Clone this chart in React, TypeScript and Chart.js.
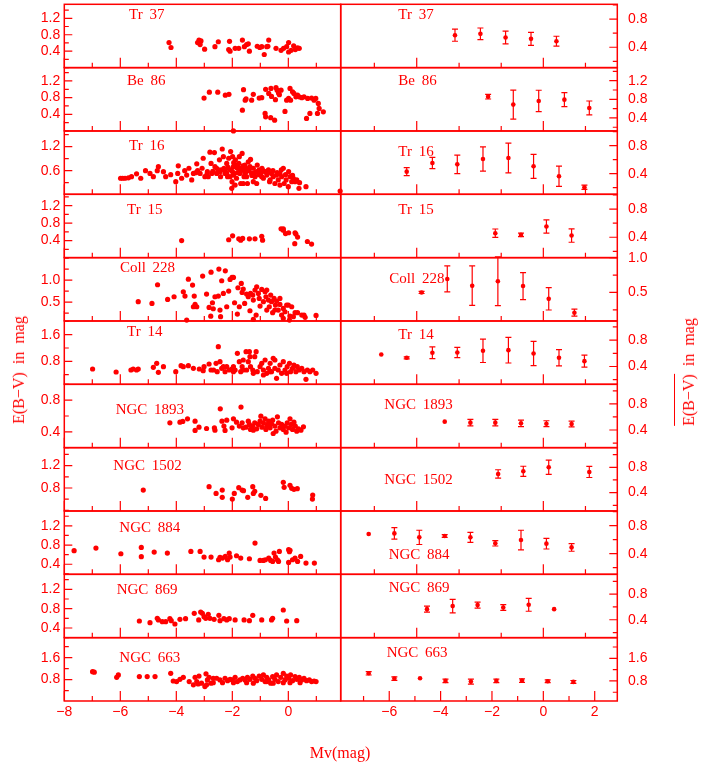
import React, { useEffect, useRef } from "react";
import { Chart, registerables } from "chart.js";
Chart.register(...registerables);

type Pt = [number, number];
type Bin = [number, number, number];

// ---------------- cluster names ----------------
const CLUSTERS = ["Tr 37", "Be 86", "Tr 16", "Tr 15", "Coll 228", "Tr 14", "NGC 1893", "NGC 1502", "NGC 884", "NGC 869", "NGC 663"];

// ---------------- individual stars: [Mv, E(B-V)] ----------------
const TR37_STARS: Pt[] = [[-4.26,0.61],[-4.19,0.49],[-3.24,0.61],[-3.19,0.67],[-3.15,0.56],[-3.12,0.65],[-2.99,0.45],[-2.62,0.51],[-2.50,0.63],[-2.10,0.64],[-2.13,0.44],[-2.08,0.40],[-1.90,0.47],[-1.77,0.47],[-1.64,0.67],[-1.57,0.51],[-1.49,0.56],[-1.43,0.58],[-1.39,0.40],[-1.11,0.52],[-1.02,0.49],[-0.95,0.51],[-0.86,0.32],[-0.77,0.51],[-0.70,0.67],[-0.73,0.52],[-0.44,0.47],[-0.26,0.42],[-0.17,0.47],[-0.06,0.51],[0.01,0.61],[0.01,0.38],[0.10,0.42],[0.19,0.53],[0.25,0.44],[0.33,0.48],[0.39,0.47]];
const BE86_STARS: Pt[] = [[-3.01,0.79],[-2.82,0.93],[-2.52,0.93],[-2.25,0.86],[-2.12,0.88],[-1.96,0.0],[-1.64,0.50],[-1.60,0.99],[-1.54,0.74],[-1.51,0.77],[-1.31,0.74],[-1.25,0.88],[-1.04,0.79],[-0.95,0.80],[-0.83,0.42],[-0.81,0.34],[-0.81,1.00],[-0.70,0.90],[-0.63,0.32],[-0.62,1.02],[-0.60,0.83],[-0.49,0.26],[-0.46,0.75],[-0.44,1.04],[-0.40,0.98],[-0.35,0.91],[-0.32,0.87],[-0.26,0.98],[-0.12,0.47],[-0.06,0.74],[0.01,0.78],[0.06,1.02],[0.08,0.74],[0.15,0.94],[0.20,0.90],[0.27,0.82],[0.33,0.86],[0.39,0.82],[0.48,0.80],[0.56,0.82],[0.65,0.30],[0.69,0.78],[0.77,0.42],[0.83,0.79],[0.92,0.74],[0.98,0.78],[1.04,0.42],[1.07,0.66],[1.10,0.54],[1.25,0.46]];
const TR16_STARS: Pt[] = [[-5.99,0.41],[-5.92,0.41],[-5.83,0.41],[-5.71,0.42],[-5.60,0.45],[-5.42,0.52],[-5.27,0.41],[-5.10,0.60],[-4.94,0.53],[-4.82,0.45],[-4.68,0.60],[-4.64,0.70],[-4.46,0.575],[-4.38,0.45],[-4.20,0.50],[-4.02,0.325],[-3.93,0.72],[-3.95,0.53],[-3.81,0.41],[-3.70,0.60],[-3.63,0.49],[-3.55,0.66],[-3.45,0.37],[-3.39,0.53],[-3.30,0.55],[-3.27,0.77],[-3.24,0.60],[-3.15,0.53],[-3.08,0.66],[-3.04,0.91],[-2.98,0.45],[-2.90,0.52],[-2.89,0.575],[-2.86,0.45],[-2.80,1.06],[-2.76,0.78],[-2.73,0.53],[-2.70,0.58],[-2.64,1.05],[-2.62,0.70],[-2.56,0.53],[-2.56,0.66],[-2.50,0.62],[-2.46,0.87],[-2.44,0.575],[-2.42,0.45],[-2.40,0.62],[-2.36,1.14],[-2.32,0.95],[-2.30,0.66],[-2.26,0.53],[-2.25,0.60],[-2.20,0.78],[-2.20,0.53],[-2.17,0.45],[-2.15,0.68],[-2.13,0.91],[-2.08,0.62],[-2.08,0.45],[-2.06,1.075],[-2.02,0.16],[-2.01,0.325],[-2.00,0.58],[-1.99,0.95],[-1.96,0.70],[-1.96,0.49],[-1.95,0.80],[-1.93,0.53],[-1.90,0.24],[-1.89,0.87],[-1.85,0.41],[-1.85,0.74],[-1.82,0.66],[-1.80,0.55],[-1.77,0.78],[-1.75,0.95],[-1.73,0.53],[-1.73,0.66],[-1.70,0.28],[-1.70,0.60],[-1.65,1.03],[-1.63,0.62],[-1.62,0.72],[-1.61,0.28],[-1.58,0.45],[-1.55,0.74],[-1.55,0.52],[-1.51,0.575],[-1.50,0.66],[-1.49,0.45],[-1.46,0.28],[-1.43,0.82],[-1.40,0.60],[-1.37,0.70],[-1.35,0.88],[-1.31,0.53],[-1.30,0.48],[-1.25,0.66],[-1.25,0.325],[-1.20,0.55],[-1.19,0.45],[-1.13,0.28],[-1.13,0.575],[-1.11,0.74],[-1.05,0.50],[-1.04,0.62],[-0.99,0.53],[-0.95,0.45],[-0.94,0.66],[-0.90,0.60],[-0.89,0.41],[-0.83,0.575],[-0.77,0.49],[-0.75,0.55],[-0.71,0.62],[-0.67,0.325],[-0.65,0.37],[-0.60,0.53],[-0.55,0.60],[-0.54,0.45],[-0.48,0.28],[-0.42,0.49],[-0.40,0.55],[-0.36,0.37],[-0.30,0.53],[-0.30,0.24],[-0.25,0.62],[-0.24,0.45],[-0.18,0.66],[-0.15,0.28],[-0.10,0.50],[-0.08,0.37],[0.00,0.20],[0.01,0.575],[0.06,0.45],[0.12,0.325],[0.15,0.48],[0.18,0.41],[0.24,0.325],[0.30,0.37],[0.38,0.16],[0.40,0.30],[0.63,0.20],[1.85,0.09]];
const TR15_STARS: Pt[] = [[-3.81,0.40],[-2.13,0.42],[-1.99,0.51],[-1.77,0.44],[-1.70,0.41],[-1.63,0.45],[-1.39,0.44],[-1.19,0.44],[-0.95,0.50],[-0.92,0.41],[-0.26,0.67],[-0.18,0.64],[-0.18,0.67],[-0.10,0.56],[0.01,0.58],[0.23,0.33],[0.24,0.58],[0.27,0.55],[0.33,0.48],[0.68,0.38],[0.83,0.32]];
const COLL228_STARS: Pt[] = [[-5.36,0.508],[-4.87,0.47],[-4.67,0.894],[-4.31,0.561],[-4.08,0.621],[-3.75,0.735],[-3.69,0.636],[-3.63,0.09],[-3.57,1.02],[-3.42,0.886],[-3.36,0.636],[-3.39,0.394],[-3.33,0.447],[-3.27,0.394],[-3.06,1.09],[-2.92,0.682],[-2.83,0.379],[-2.77,0.18],[-2.76,1.18],[-2.71,0.485],[-2.68,0.348],[-2.62,0.621],[-2.50,0.636],[-2.48,1.25],[-2.44,0.318],[-2.42,0.167],[-2.38,0.985],[-2.32,0.697],[-2.25,1.21],[-2.20,0.394],[-2.13,0.75],[-2.08,1.015],[-2.01,1.06],[-1.96,1.06],[-1.92,0.485],[-1.82,0.227],[-1.80,0.826],[-1.75,0.394],[-1.68,0.924],[-1.65,0.72],[-1.61,0.795],[-1.56,0.47],[-1.49,0.682],[-1.43,0.621],[-1.37,0.303],[-1.35,0.697],[-1.27,0.659],[-1.25,0.106],[-1.25,0.545],[-1.19,0.773],[-1.15,0.205],[-1.13,0.848],[-1.07,0.697],[-1.04,0.583],[-1.01,0.409],[-0.95,0.788],[-0.89,0.508],[-0.83,0.735],[-0.80,0.621],[-0.77,0.318],[-0.77,0.773],[-0.71,0.545],[-0.68,0.394],[-0.63,0.659],[-0.60,0.508],[-0.56,0.258],[-0.51,0.583],[-0.48,0.32],[-0.46,0.432],[-0.42,0.523],[-0.36,0.318],[-0.30,0.447],[-0.30,0.583],[-0.24,0.205],[-0.18,0.356],[-0.18,0.129],[-0.12,0.28],[-0.06,0.432],[0.00,0.432],[0.04,0.09],[0.06,0.182],[0.12,0.394],[0.18,0.167],[0.24,0.258],[0.33,0.258],[0.48,0.205],[0.56,0.205],[0.60,0.152],[0.99,0.197]];
const TR14_STARS: Pt[] = [[-6.99,0.57],[-6.15,0.48],[-5.62,0.54],[-5.54,0.57],[-5.42,0.54],[-5.36,0.57],[-4.82,0.62],[-4.70,0.74],[-4.64,0.47],[-4.46,0.64],[-4.02,0.49],[-3.83,0.67],[-3.75,0.64],[-3.57,0.67],[-3.39,0.59],[-3.18,0.57],[-3.04,0.52],[-3.01,0.64],[-2.83,0.72],[-2.76,0.54],[-2.67,0.54],[-2.58,0.74],[-2.54,0.49],[-2.50,1.24],[-2.44,0.79],[-2.38,0.59],[-2.32,0.64],[-2.26,0.49],[-2.20,0.64],[-2.11,0.54],[-2.02,0.57],[-1.96,0.49],[-1.96,0.64],[-1.90,0.54],[-1.82,1.04],[-1.75,0.79],[-1.70,0.49],[-1.65,0.64],[-1.61,0.84],[-1.61,0.54],[-1.51,1.09],[-1.49,0.54],[-1.43,0.79],[-1.39,1.09],[-1.37,0.94],[-1.35,0.64],[-1.27,0.54],[-1.25,0.44],[-1.20,0.94],[-1.15,1.09],[-1.11,0.49],[-1.01,0.64],[-0.95,0.74],[-0.89,0.54],[-0.89,0.39],[-0.83,0.84],[-0.77,0.44],[-0.71,0.59],[-0.65,0.74],[-0.65,0.49],[-0.60,0.49],[-0.54,0.89],[-0.48,0.59],[-0.48,0.84],[-0.42,0.29],[-0.36,0.54],[-0.30,0.69],[-0.24,0.44],[-0.18,0.79],[-0.12,0.54],[-0.06,0.44],[-0.04,0.64],[0.04,0.74],[0.08,0.49],[0.15,0.59],[0.20,0.69],[0.27,0.49],[0.32,0.64],[0.39,0.54],[0.48,0.59],[0.56,0.49],[0.63,0.26],[0.68,0.54],[0.77,0.49],[0.87,0.54],[0.99,0.44]];
const NGC1893_STARS: Pt[] = [[-4.23,0.514],[-3.87,0.522],[-3.77,0.531],[-3.60,0.564],[-3.33,0.535],[-3.33,0.417],[-3.19,0.459],[-2.92,0.442],[-2.64,0.451],[-2.62,0.421],[-2.43,0.690],[-2.37,0.535],[-2.30,0.472],[-2.26,0.417],[-2.20,0.547],[-2.01,0.451],[-1.96,0.564],[-1.85,0.522],[-1.75,0.472],[-1.69,0.712],[-1.65,0.514],[-1.61,0.451],[-1.51,0.459],[-1.43,0.535],[-1.39,0.493],[-1.35,0.430],[-1.27,0.472],[-1.25,0.42],[-1.20,0.514],[-1.13,0.438],[-1.07,0.493],[-1.01,0.535],[-0.98,0.598],[-0.94,0.459],[-0.89,0.514],[-0.83,0.564],[-0.80,0.430],[-0.77,0.47],[-0.74,0.493],[-0.70,0.535],[-0.65,0.451],[-0.60,0.501],[-0.56,0.547],[-0.54,0.379],[-0.48,0.472],[-0.44,0.408],[-0.39,0.589],[-0.35,0.514],[-0.30,0.451],[-0.24,0.493],[-0.18,0.430],[-0.12,0.472],[-0.08,0.396],[-0.04,0.514],[0.01,0.451],[0.06,0.564],[0.11,0.493],[0.15,0.430],[0.20,0.522],[0.25,0.472],[0.30,0.408],[0.36,0.438],[0.45,0.421],[0.54,0.463]];
const NGC1502_STARS: Pt[] = [[-5.18,0.764],[-2.83,0.824],[-2.58,0.704],[-2.36,0.764],[-2.36,0.633],[-2.00,0.603],[-1.93,0.704],[-1.77,0.806],[-1.65,0.764],[-1.60,0.752],[-1.45,0.633],[-1.27,0.824],[-1.25,0.704],[-1.20,0.740],[-0.98,0.669],[-0.81,0.615],[-0.18,0.901],[-0.15,0.812],[0.06,0.848],[0.12,0.794],[0.20,0.776],[0.32,0.788],[0.87,0.675],[0.86,0.603]];
const NGC884_STARS: Pt[] = [[-7.65,0.682],[-6.87,0.737],[-5.98,0.619],[-5.25,0.751],[-5.25,0.557],[-4.79,0.654],[-4.32,0.633],[-3.48,0.668],[-3.15,0.668],[-3.01,0.550],[-2.76,0.550],[-2.49,0.494],[-2.44,0.543],[-2.35,0.529],[-2.25,0.563],[-2.17,0.494],[-2.11,0.633],[-2.08,0.550],[-1.85,0.577],[-1.70,0.529],[-1.39,0.515],[-1.19,0.842],[-1.01,0.480],[-0.89,0.480],[-0.82,0.494],[-0.70,0.529],[-0.63,0.480],[-0.56,0.459],[-0.51,0.633],[-0.46,0.550],[-0.39,0.494],[-0.35,0.459],[-0.32,0.668],[0.01,0.703],[0.04,0.661],[0.06,0.69],[0.01,0.438],[0.15,0.494],[0.24,0.529],[0.33,0.459],[0.44,0.563],[0.63,0.424],[0.93,0.424]];
const NGC869_STARS: Pt[] = [[-5.32,0.545],[-4.94,0.510],[-4.68,0.600],[-4.64,0.566],[-4.50,0.531],[-4.38,0.531],[-4.23,0.593],[-4.18,0.552],[-4.05,0.483],[-3.87,0.579],[-3.67,0.593],[-3.36,0.703],[-3.20,0.566],[-3.13,0.731],[-3.07,0.703],[-3.01,0.635],[-2.95,0.600],[-2.86,0.683],[-2.80,0.600],[-2.65,0.579],[-2.48,0.662],[-2.44,0.552],[-2.30,0.593],[-2.20,0.566],[-2.11,0.593],[-1.90,0.566],[-1.58,0.566],[-1.39,0.552],[-1.27,0.662],[-0.95,0.566],[-0.60,0.566],[-0.56,0.600],[-0.18,0.772],[-0.06,0.545],[0.30,0.552]];
const NGC663_STARS: Pt[] = [[-6.99,1.09],[-6.93,1.07],[-6.13,0.885],[-6.07,0.97],[-5.32,0.91],[-5.04,0.91],[-4.76,0.91],[-4.20,1.03],[-4.11,0.75],[-3.99,0.73],[-3.87,0.81],[-3.75,0.885],[-3.54,0.73],[-3.39,0.61],[-3.33,0.885],[-3.27,0.73],[-3.22,0.64],[-3.19,0.93],[-3.10,0.67],[-2.98,0.545],[-2.94,1.01],[-2.92,0.61],[-2.89,0.79],[-2.83,0.885],[-2.76,0.67],[-2.68,0.69],[-2.68,0.85],[-2.56,0.85],[-2.44,0.79],[-2.35,0.69],[-2.26,0.85],[-2.17,0.76],[-2.08,0.81],[-2.00,0.79],[-1.96,0.69],[-1.90,0.885],[-1.82,0.73],[-1.73,0.79],[-1.63,0.85],[-1.55,0.79],[-1.49,0.69],[-1.46,0.885],[-1.37,0.81],[-1.27,0.93],[-1.25,0.67],[-1.19,0.85],[-1.13,0.76],[-1.04,0.93],[-0.95,0.81],[-0.89,0.97],[-0.83,0.73],[-0.77,0.885],[-0.77,0.73],[-0.70,0.79],[-0.63,0.67],[-0.56,0.91],[-0.54,0.67],[-0.48,0.81],[-0.42,0.97],[-0.36,0.73],[-0.27,0.885],[-0.18,1.03],[-0.18,0.69],[-0.12,0.79],[-0.06,0.93],[0.01,0.85],[0.06,0.69],[0.08,0.97],[0.15,0.76],[0.24,0.91],[0.30,0.81],[0.39,0.885],[0.42,0.69],[0.48,0.79],[0.56,0.85],[0.65,0.76],[0.75,0.79],[0.83,0.73],[0.92,0.75],[0.99,0.73]];

// ---------------- binned means: [Mv, mean E(B-V), error] ----------------
const TR37_BINS: Bin[] = [[-3.44,0.571,0.086],[-2.45,0.590,0.083],[-1.47,0.538,0.09],[-0.48,0.519,0.093],[0.51,0.486,0.07]];
const BE86_BINS: Bin[] = [[-2.15,0.857,0.05],[-1.17,0.686,0.31],[-0.18,0.764,0.23],[0.82,0.793,0.15],[1.79,0.614,0.15]];
const TR16_BINS: Bin[] = [[-5.32,0.429,0.057],[-4.32,0.552,0.081],[-3.35,0.533,0.133],[-2.35,0.610,0.174],[-1.36,0.624,0.212],[-0.38,0.505,0.171],[0.61,0.362,0.145],[1.60,0.205,0.03]];
const TR15_BINS: Bin[] = [[-1.87,0.457,0.06],[-0.87,0.433,0.024],[0.12,0.552,0.095],[1.10,0.424,0.095]];
const COLL228_BINS: Bin[] = [[-4.74,0.5,0.015],[-3.74,0.694,0.187],[-2.77,0.597,0.284],[-1.77,0.660,0.35],[-0.79,0.592,0.194],[0.21,0.408,0.16],[1.21,0.209,0.05]];
const TR14_BINS: Bin[] = [[-6.31,0.582,0],[-5.32,0.532,0.015],[-4.32,0.608,0.089],[-3.35,0.613,0.078],[-2.35,0.638,0.177],[-1.36,0.648,0.195],[-0.38,0.597,0.185],[0.61,0.532,0.124],[1.60,0.481,0.091]];
const NGC1893_BINS: Bin[] = [[-3.84,0.528,0],[-2.84,0.513,0.05],[-1.87,0.513,0.05],[-0.87,0.503,0.05],[0.12,0.497,0.045],[1.10,0.492,0.045]];
const NGC1502_BINS: Bin[] = [[-1.76,0.695,0.066],[-0.78,0.737,0.079],[0.21,0.80,0.113],[1.79,0.726,0.087]];
const NGC884_BINS: Bin[] = [[-6.80,0.681,0],[-5.80,0.690,0.081],[-4.83,0.633,0.102],[-3.84,0.652,0.02],[-2.84,0.633,0.071],[-1.87,0.548,0.038],[-0.87,0.595,0.14],[0.12,0.543,0.076],[1.10,0.490,0.055]];
const NGC869_BINS: Bin[] = [[-4.53,0.566,0.047],[-3.53,0.613,0.106],[-2.56,0.629,0.047],[-1.56,0.592,0.044],[-0.57,0.634,0.101],[0.42,0.566,0]];
const NGC663_BINS: Bin[] = [[-6.80,1.07,0.06],[-5.80,0.882,0.06],[-4.80,0.894,0],[-3.81,0.80,0.06],[-2.82,0.776,0.09],[-1.83,0.80,0.06],[-0.83,0.812,0.06],[0.17,0.788,0.05],[1.17,0.765,0.05]];

const STARS = [TR37_STARS, BE86_STARS, TR16_STARS, TR15_STARS, COLL228_STARS, TR14_STARS, NGC1893_STARS, NGC1502_STARS, NGC884_STARS, NGC869_STARS, NGC663_STARS];
const BINS = [TR37_BINS, BE86_BINS, TR16_BINS, TR15_BINS, COLL228_BINS, TR14_BINS, NGC1893_BINS, NGC1502_BINS, NGC884_BINS, NGC869_BINS, NGC663_BINS];

// ---------------- axes ----------------
const LEFT_X_RANGE: [number, number] = [-8, 1.87];
const RIGHT_X_RANGE: [number, number] = [-7.89, 2.88];
const LEFT_X_LABELS = [-8, -6, -4, -2, 0];
const RIGHT_X_LABELS = [-6, -4, -2, 0, 2];
const LEFT_X_MARKS = [-8, -7, -6, -5, -4, -3, -2, -1, 0, 1];
const RIGHT_X_MARKS_BOTTOM = [-7, -6, -5, -4, -3, -2, -1, 0, 1, 2];
const RIGHT_X_MARKS_UPPER = [-6.58, -4.93, -3.28, -1.64, 0, 1.64];
const RIGHT_X_MAJOR_UPPER = [-4.93, 0];

const LEFT_Y_RANGE: [number, number][] = [[0, 1.54], [0, 1.52], [0.01, 1.59], [0.01, 1.46], [0.07, 1.51], [0.11, 2.01], [0.2, 1.0], [0.39, 1.52], [0.19, 1.51], [0.2, 1.51], [0.02, 2.33]];
const LEFT_Y_LABELS = [[0.4, 0.8, 1.2], [0.4, 0.8, 1.2], [0.6, 1.2], [0.4, 0.8, 1.2], [0.5, 1.0], [0.8, 1.6], [0.4, 0.8], [0.8, 1.2], [0.4, 0.8, 1.2], [0.4, 0.8, 1.2], [0.8, 1.6]];
const LEFT_Y_MINOR = [0.2, 0.2, 0.3, 0.2, 0.25, 0.4, 0.2, 0.2, 0.2, 0.2, 0.4];
const RIGHT_Y_RANGE: [number, number][] = [[0.11, 1.01], [0.12, 1.48], [0.105, 1.01], [0.11, 1.01], [0.09, 1.0], [0.13, 1.09], [0.13, 1.10], [0.11, 1.11], [0.105, 1.01], [0.12, 1.11], [0.09, 2.33]];
const RIGHT_Y_LABELS = [[0.4, 0.8], [0.4, 0.8, 1.2], [0.4, 0.8], [0.4, 0.8], [0.5, 1.0], [0.4, 0.8], [0.4, 0.8], [0.4, 0.8], [0.4, 0.8], [0.4, 0.8], [0.8, 1.6]];
const RIGHT_Y_MINOR = [0.2, 0.2, 0.2, 0.2, 0.25, 0.2, 0.2, 0.2, 0.2, 0.2, 0.4];

// ---------------- layout (pixels) ----------------
const RED = "#ff0000";
const SANS = "'Liberation Sans', Arial, sans-serif";
const SERIF = "'Liberation Serif', 'Times New Roman', serif";
const GRID_TOP = 4.3;
const ROW_H = 63.336;
const L_EDGE = 64.3;
const MID = 340.7;
const R_EDGE = 617.3;
const MARGIN = 26;
const XAXIS_H = 30;
const LEFT_LABEL_POS: [number, number][] = [[129, 10], [127, 76], [129, 141], [127, 205], [120, 262.7], [127, 326.7], [115.7, 405], [113.3, 460.7], [119.3, 522.3], [116.7, 585], [119.3, 652.7]];
const RIGHT_LABEL_POS: [number, number][] = [[398.3, 10], [398.3, 76], [398.3, 146.7], [398.3, 205], [389.3, 274], [398.3, 330], [384.3, 400], [384.3, 475], [388.7, 550], [388.7, 582.7], [386.7, 647.3]];

const fmtX = (v: number) => (v < 0 ? "\u2212" + Math.abs(v) : String(v));

interface PanelProps {
  side: "L" | "R";
  row: number;
}

function Panel({ side, row }: PanelProps) {
  const ref = useRef<HTMLCanvasElement>(null);
  const isBottom = row === 10;
  const top = GRID_TOP + row * ROW_H;
  const bottom = top + ROW_H;
  const cTop = Math.floor(top) - MARGIN;
  const cBottom = Math.ceil(bottom) + MARGIN + (isBottom ? XAXIS_H : 0);
  const cH = cBottom - cTop;
  const cLeft = side === "L" ? 0 : 330;
  const cW = side === "L" ? 350 : 387;

  useEffect(() => {
    const padTop = top - cTop;
    const padBottom = cBottom - bottom - (isBottom ? XAXIS_H : 0);
    const padLeft = side === "L" ? 0 : MID - cLeft;
    const padRight = side === "L" ? cLeft + cW - MID : 0;
    const yAxisW = side === "L" ? L_EDGE - cLeft : cLeft + cW - R_EDGE;
    const xRange = side === "L" ? LEFT_X_RANGE : RIGHT_X_RANGE;
    const xLabels = side === "L" ? LEFT_X_LABELS : RIGHT_X_LABELS;
    const yRange = side === "L" ? LEFT_Y_RANGE[row] : RIGHT_Y_RANGE[row];
    const yLabels = side === "L" ? LEFT_Y_LABELS[row] : RIGHT_Y_LABELS[row];
    const yMinor = side === "L" ? LEFT_Y_MINOR[row] : RIGHT_Y_MINOR[row];
    const xMarks = side === "L" ? LEFT_X_MARKS : isBottom ? RIGHT_X_MARKS_BOTTOM : RIGHT_X_MARKS_UPPER;
    const isMajorX = (v: number) =>
      side === "L" || isBottom ? Math.abs(v % 2) < 1e-6 : RIGHT_X_MAJOR_UPPER.some((m) => Math.abs(m - v) < 1e-6);
    const bins = side === "R" ? BINS[row] : [];
    const data = side === "L"
      ? STARS[row].map(([x, y]) => ({ x, y }))
      : BINS[row].map(([x, y]) => ({ x, y }));

    const deco = {
      id: "deco" + side + row,
      afterDatasetsDraw(chart: any) {
        const ctx = chart.ctx as CanvasRenderingContext2D;
        const a = chart.chartArea;
        const xs = chart.scales.x;
        const ys = chart.scales.y;
        ctx.save();
        ctx.strokeStyle = RED;
        ctx.lineWidth = 1.2;
        // error bars
        for (const [mv, e, err] of bins) {
          if (err <= 0) continue;
          const px = xs.getPixelForValue(mv);
          const y1 = ys.getPixelForValue(e - err);
          const y2 = ys.getPixelForValue(e + err);
          ctx.beginPath();
          ctx.moveTo(px, y1); ctx.lineTo(px, y2);
          ctx.moveTo(px - 3, y1); ctx.lineTo(px + 3, y1);
          ctx.moveTo(px - 3, y2); ctx.lineTo(px + 3, y2);
          ctx.stroke();
        }
        // inward x tick marks at the bottom
        ctx.beginPath();
        for (const v of xMarks) {
          const px = xs.getPixelForValue(v);
          const len = isMajorX(v) ? 10 : 5;
          ctx.moveTo(px, a.bottom); ctx.lineTo(px, a.bottom - len);
        }
        // inward y tick marks
        const k0 = Math.ceil(yRange[0] / yMinor - 1e-6);
        for (let k = k0; k * yMinor <= yRange[1] + 1e-6; k++) {
          const v = k * yMinor;
          const py = ys.getPixelForValue(v);
          const major = yLabels.some((m) => Math.abs(m - v) < 1e-6);
          const len = major ? 8 : 4.5;
          if (side === "L") { ctx.moveTo(a.left, py); ctx.lineTo(a.left + len, py); }
          else { ctx.moveTo(a.right, py); ctx.lineTo(a.right - len, py); }
        }
        ctx.stroke();
        // frame
        ctx.lineWidth = 1.5;
        ctx.strokeRect(a.left, a.top, a.right - a.left, a.bottom - a.top);
        ctx.restore();
      },
    };

    const chart = new Chart(ref.current as HTMLCanvasElement, {
      type: "scatter",
      data: {
        datasets: [
          {
            data,
            pointRadius: side === "L" ? 2.6 : 2.3,
            pointBackgroundColor: RED,
            pointBorderColor: RED,
            pointBorderWidth: 0,
            showLine: false,
            clip: false as any,
          },
        ],
      },
      options: {
        responsive: false,
        animation: false,
        events: [],
        layout: { autoPadding: false, padding: { top: padTop, bottom: padBottom, left: padLeft, right: padRight } },
        plugins: { legend: { display: false }, tooltip: { enabled: false } },
        scales: {
          x: {
            type: "linear",
            min: xRange[0],
            max: xRange[1],
            display: isBottom,
            grid: { display: false, drawTicks: false },
            border: { display: false },
            ticks: {
              autoSkip: false,
              maxRotation: 0,
              padding: 3,
              color: RED,
              font: { family: SANS, size: 14 },
              callback: (v: any) => fmtX(Number(v)),
            },
            afterBuildTicks: (s: any) => { s.ticks = xLabels.map((v) => ({ value: v })); },
            afterFit: (s: any) => { if (isBottom) s.height = XAXIS_H; },
          },
          y: {
            type: "linear",
            position: side === "L" ? "left" : "right",
            min: yRange[0],
            max: yRange[1],
            grid: { display: false, drawTicks: false },
            border: { display: false },
            ticks: {
              autoSkip: false,
              padding: side === "L" ? 4 : 10.7,
              color: RED,
              font: { family: SANS, size: 14 },
              callback: (v: any) => Number(v).toFixed(1),
            },
            afterBuildTicks: (s: any) => { s.ticks = yLabels.map((v) => ({ value: v })); },
            afterFit: (s: any) => { s.width = yAxisW; },
          },
        },
      } as any,
      plugins: [deco],
    });
    return () => chart.destroy();
  }, []);

  return (
    <canvas
      ref={ref}
      width={cW}
      height={cH}
      style={{ position: "absolute", left: cLeft, top: cTop, width: cW, height: cH }}
    />
  );
}

const labelStyle = (x: number, capTop: number): React.CSSProperties => ({
  position: "absolute",
  left: x,
  top: capTop - 2.7,
  fontFamily: SERIF,
  fontSize: 15,
  lineHeight: "15px",
  color: RED,
  whiteSpace: "pre",
  wordSpacing: 3,
});

export default function App() {
  const rows = CLUSTERS.map((_, i) => i);
  return (
    <div style={{ position: "absolute", left: 0, top: 0, width: 717, height: 766, background: "#fff", overflow: "hidden" }}>
      {rows.map((i) => (
        <Panel key={"L" + i} side="L" row={i} />
      ))}
      {rows.map((i) => (
        <Panel key={"R" + i} side="R" row={i} />
      ))}
      {CLUSTERS.map((name, i) => (
        <div key={"ll" + i} style={labelStyle(LEFT_LABEL_POS[i][0], LEFT_LABEL_POS[i][1])}>{name}</div>
      ))}
      {CLUSTERS.map((name, i) => (
        <div key={"rl" + i} style={labelStyle(RIGHT_LABEL_POS[i][0], RIGHT_LABEL_POS[i][1])}>{name}</div>
      ))}
      <div
        style={{
          position: "absolute", left: 19, top: 370, transform: "translate(-50%, -50%) rotate(-90deg)",
          fontFamily: SERIF, fontSize: 16, color: RED, whiteSpace: "nowrap", wordSpacing: 4,
        }}
      >
        E(B{"\u2212"}V) in mag
      </div>
      <div
        style={{
          position: "absolute", left: 689, top: 372, transform: "translate(-50%, -50%) rotate(-90deg)",
          fontFamily: SERIF, fontSize: 16, color: RED, whiteSpace: "nowrap", wordSpacing: 4,
        }}
      >
        <span style={{ borderTop: "1px solid " + RED, paddingTop: 5 }}>E(B{"\u2212"}V)</span> in mag
      </div>
      <div
        style={{
          position: "absolute", left: 340, top: 753, transform: "translate(-50%, -50%)",
          fontFamily: SERIF, fontSize: 16, color: RED, whiteSpace: "nowrap",
        }}
      >
        Mv(mag)
      </div>
    </div>
  );
}
